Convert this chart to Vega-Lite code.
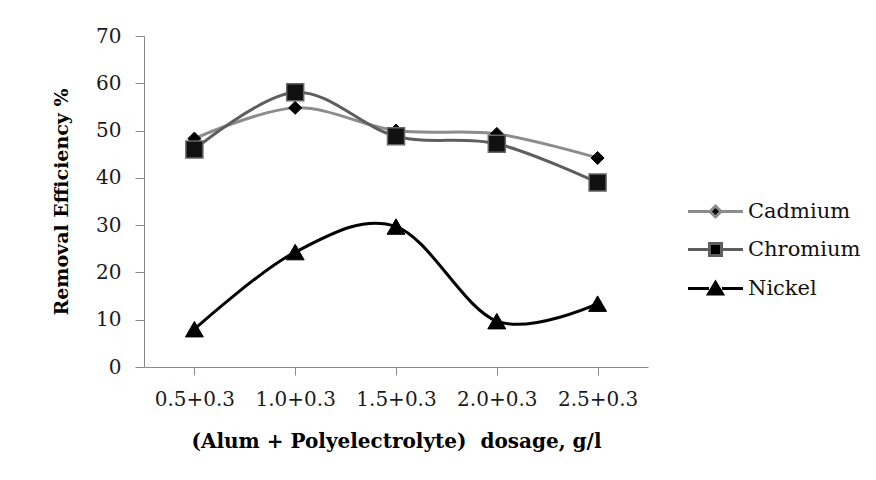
{
  "$schema": "https://vega.github.io/schema/vega-lite/v6.json",
  "width": 504,
  "height": 331,
  "autosize": {"type": "none"},
  "padding": {"left": 144, "top": 36, "right": 228, "bottom": 113},
  "background": "white",
  "config": {
    "view": {"stroke": null},
    "font": "DejaVu Serif",
    "axis": {
      "grid": false,
      "domainColor": "#8a8a8a",
      "tickColor": "#8a8a8a",
      "labelFont": "DejaVu Serif",
      "labelColor": "#1a1a1a",
      "titleFont": "DejaVu Serif",
      "titleColor": "#000000",
      "titleFontWeight": "bold"
    },
    "legend": {
      "labelFont": "DejaVu Serif",
      "labelFontSize": 21,
      "labelColor": "#111111"
    }
  },
  "data": {
    "values": [
      {"dose": "0.5+0.3", "metal": "Cadmium", "value": 48.3},
      {"dose": "1.0+0.3", "metal": "Cadmium", "value": 54.8},
      {"dose": "1.5+0.3", "metal": "Cadmium", "value": 50},
      {"dose": "2.0+0.3", "metal": "Cadmium", "value": 49.3},
      {"dose": "2.5+0.3", "metal": "Cadmium", "value": 44.2},
      {"dose": "0.5+0.3", "metal": "Chromium", "value": 46},
      {"dose": "1.0+0.3", "metal": "Chromium", "value": 58.1},
      {"dose": "1.5+0.3", "metal": "Chromium", "value": 48.8},
      {"dose": "2.0+0.3", "metal": "Chromium", "value": 47.2},
      {"dose": "2.5+0.3", "metal": "Chromium", "value": 39},
      {"dose": "0.5+0.3", "metal": "Nickel", "value": 8},
      {"dose": "1.0+0.3", "metal": "Nickel", "value": 24.3},
      {"dose": "1.5+0.3", "metal": "Nickel", "value": 29.7},
      {"dose": "2.0+0.3", "metal": "Nickel", "value": 9.7},
      {"dose": "2.5+0.3", "metal": "Nickel", "value": 13.4}
    ]
  },
  "encoding": {
    "x": {
      "field": "dose",
      "type": "ordinal",
      "sort": null,
      "scale": {"type": "point", "padding": 0.5},
      "axis": {
        "title": "(Alum + Polyelectrolyte)\u00a0 dosage, g/l",
        "labelAngle": 0,
        "labelFontSize": 20,
        "tickSize": 8,
        "labelPadding": 14,
        "titleFontSize": 20,
        "titlePadding": 22
      }
    },
    "y": {
      "field": "value",
      "type": "quantitative",
      "scale": {"domain": [0, 70]},
      "axis": {
        "title": "Removal Efficiency %",
        "values": [0, 10, 20, 30, 40, 50, 60, 70],
        "labelFontSize": 20,
        "tickSize": 9,
        "labelPadding": 14,
        "titleFontSize": 19,
        "titlePadding": 24
      }
    }
  },
  "layer": [
    {
      "transform": [{"filter": "datum.metal === 'Cadmium'"}],
      "mark": {"type": "line", "interpolate": "cardinal", "strokeWidth": 3, "stroke": "#8c8c8c"}
    },
    {
      "transform": [{"filter": "datum.metal === 'Chromium'"}],
      "mark": {"type": "line", "interpolate": "cardinal", "strokeWidth": 3, "stroke": "#5e5e5e"}
    },
    {
      "transform": [{"filter": "datum.metal === 'Nickel'"}],
      "mark": {"type": "line", "interpolate": "cardinal", "strokeWidth": 3, "stroke": "#000000"}
    },
    {
      "mark": {"type": "point", "filled": true, "color": "#000000", "fill": "#000000", "opacity": 0, "size": 100},
      "encoding": {
        "stroke": {
          "field": "metal",
          "type": "nominal",
          "scale": {"domain": ["Cadmium", "Chromium", "Nickel"], "range": ["#8c8c8c", "#5e5e5e", "#000000"]},
          "legend": {
            "title": null,
            "orient": "none",
            "legendX": 561,
            "legendY": 165,
            "padding": 0,
            "labelFont": "DejaVu Serif",
            "labelFontSize": 21,
            "labelColor": "#111111",
            "labelOffset": 22,
            "rowPadding": 14,
            "symbolSize": 100,
            "symbolStrokeWidth": 3,
            "symbolFillColor": "#000000",
            "encode": {
              "symbols": {
                "update": {
                  "opacity": {"value": 1},
                  "fill": {"value": "#000000"},
                  "fillOpacity": {"value": 1},
                  "strokeWidth": {"value": 3}
                }
              },
              "labels": {
                "update": {
                  "font": {"value": "DejaVu Serif"},
                  "fontSize": {"value": 21}
                }
              }
            }
          }
        },
        "shape": {
          "field": "metal",
          "type": "nominal",
          "scale": {
            "domain": ["Cadmium", "Chromium", "Nickel"],
            "range": [
              "M-5.5,0H-1.1M1.1,0H5.5M-1.1,0L0,-1.1L1.1,0L0,1.1Z",
              "M-5.5,0H-1.2M1.2,0H5.5M-1.2,-1.2H1.2V1.2H-1.2Z",
              "M-5.5,0H-1.3M1.3,0H5.5M-1.4,1.1L0,-1.2L1.4,1.1Z"
            ]
          },
          "legend": {
            "title": null,
            "orient": "none",
            "legendX": 561,
            "legendY": 165,
            "padding": 0,
            "labelFont": "DejaVu Serif",
            "labelFontSize": 21,
            "labelColor": "#111111",
            "labelOffset": 22,
            "rowPadding": 14,
            "symbolSize": 100,
            "symbolStrokeWidth": 3,
            "symbolFillColor": "#000000",
            "encode": {
              "symbols": {
                "update": {
                  "opacity": {"value": 1},
                  "fill": {"value": "#000000"},
                  "fillOpacity": {"value": 1},
                  "strokeWidth": {"value": 3}
                }
              },
              "labels": {
                "update": {
                  "font": {"value": "DejaVu Serif"},
                  "fontSize": {"value": 21}
                }
              }
            }
          }
        }
      }
    },
    {
      "transform": [{"filter": "datum.metal === 'Cadmium'"}],
      "mark": {"type": "point", "shape": "diamond", "filled": true, "size": 169, "fill": "#000000", "stroke": "#000000", "strokeWidth": 1, "opacity": 1}
    },
    {
      "transform": [{"filter": "datum.metal === 'Chromium'"}],
      "mark": {"type": "point", "shape": "square", "filled": true, "size": 289, "fill": "#111111", "stroke": "#666666", "strokeWidth": 1.5, "opacity": 1}
    },
    {
      "transform": [{"filter": "datum.metal === 'Nickel'"}],
      "mark": {"type": "point", "shape": "triangle-up", "filled": true, "size": 320, "fill": "#000000", "stroke": "#000000", "strokeWidth": 1, "opacity": 1}
    }
  ]
}
